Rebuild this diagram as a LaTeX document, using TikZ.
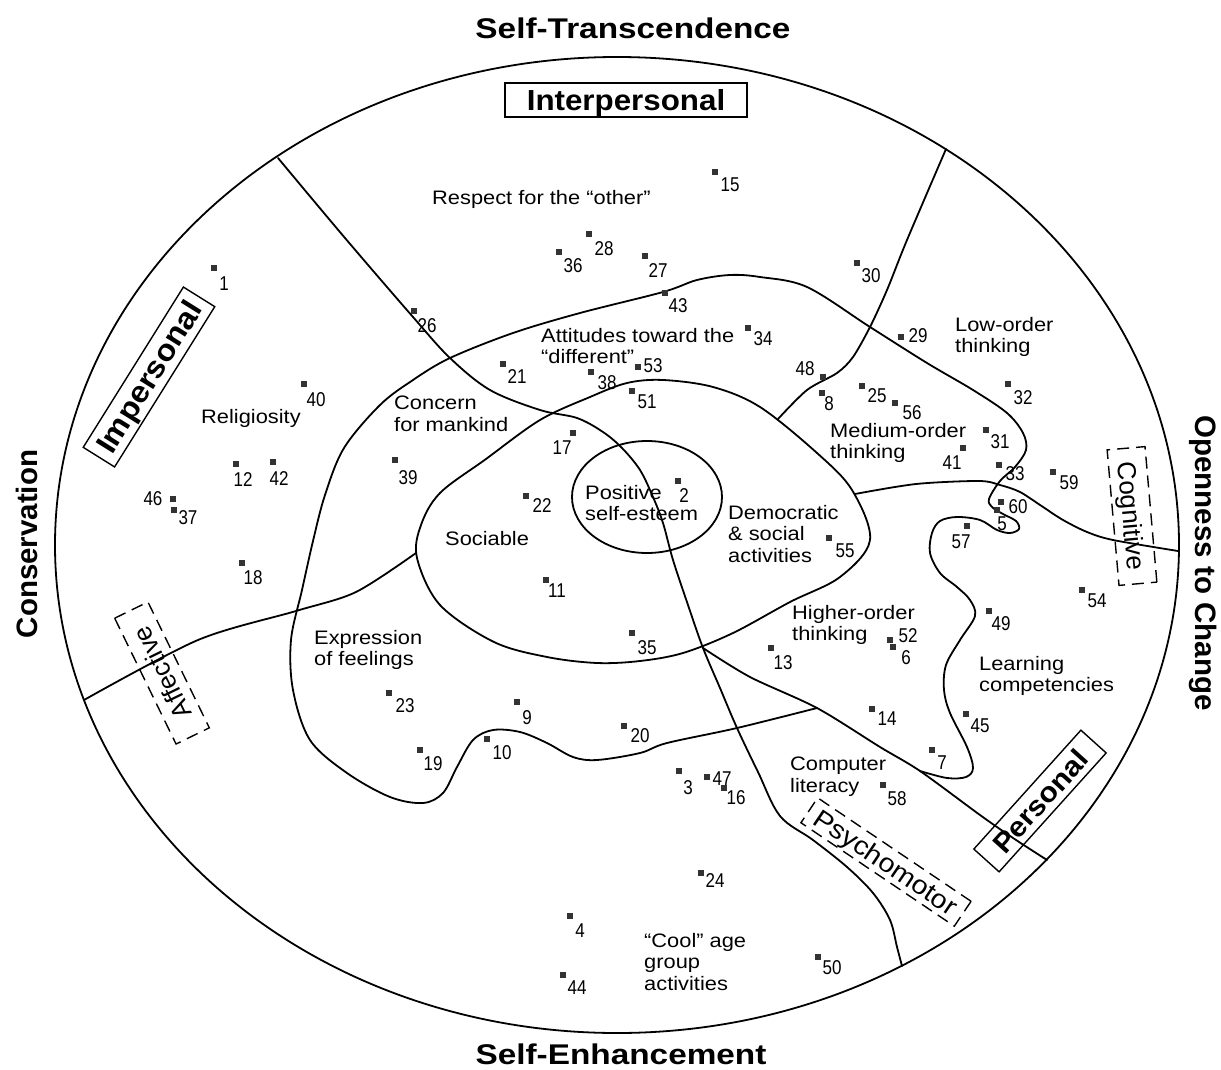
\documentclass[tikz,border=0pt]{standalone}
\usepackage{fontspec}
\setmainfont{Liberation Sans}
\newfontfamily\lblf{Liberation Sans}[FakeStretch=1.12]
\newfontfamily\numf{Liberation Sans}[FakeStretch=0.85]
\newfontfamily\ttlf{Liberation Sans}[FakeStretch=1.17]
\newfontfamily\boxf{Liberation Sans}[FakeStretch=1.08]
\newfontfamily\plainf{Liberation Sans}
\newfontfamily\psyf{Liberation Sans}[FakeStretch=1.1]
\tikzset{
 bnd/.style={line width=1.8pt, line join=round, line cap=round},
 mk/.style={rectangle, fill=black!80, minimum size=5.5pt, inner sep=0pt},
 num/.style={font={\numf\fontsize{20}{20}\selectfont}, inner sep=0pt, text height=14.4pt, text depth=0pt},
 lbl/.style={font={\lblf\fontsize{19.5}{21.5}\selectfont}, inner sep=0pt, anchor=north west, align=left},
 ttl/.style={font={\ttlf\bfseries\fontsize{28.5}{30}\selectfont}, inner sep=0pt, text height=20.5pt, text depth=0pt},
 vttl/.style={font={\plainf\bfseries\fontsize{29.5}{30}\selectfont}, inner sep=0pt, text height=21.2pt, text depth=0pt},
 sbox/.style={draw, line width=1.4pt, inner sep=0pt, text height=20.9pt, text depth=0pt, font={\boxf\bfseries\fontsize{29}{30}\selectfont}},
 dbox/.style={draw, line width=1.4pt, dash pattern=on 12pt off 7pt, inner sep=0pt, text height=18.7pt, text depth=0pt, font={\plainf\fontsize{26}{28}\selectfont}},
}
\newcommand\itm[5]{\node[mk] (m#5) at (#1,#2) {}; \node[num] (n#5) at (#3,#4) {#5};}
\begin{document}
\begin{tikzpicture}[x=1pt,y=-1pt]
\useasboundingbox (0,0) rectangle (1221,1070);
\fill[white] (0,0) rectangle (1221,1070);

% outer ellipse
\draw[bnd] (617,545) ellipse [x radius=562, y radius=488];

% long dividing curve
\draw[bnd] plot[smooth, tension=0.55] coordinates {(278,158) (345,238) (413,317) (450,358) (490,390) (540,410) (577,418) (603,432) (622,448) (640,470) (653,497) (663,523) (673,560) (688,605) (703,648) (720,688) (737,728) (758,772) (780,816) (813,840) (847,867) (873,893) (890,920) (897,947) (902,966)};

% big blob
\draw[bnd] plot[smooth, tension=0.55] coordinates {(920,771) (947,778) (966,777) (973,768) (967,747) (950,713) (944,690) (946,665) (960,640) (975,616) (970,600) (957,587) (940,573) (930,553) (932,533) (940,521) (957,517) (980,520) (997,530) (1010,533) (1019,529) (1016,521) (1003,514) (992,507) (989,499) (1000,481) (1015,467) (1026,450) (1023,433) (1007,413) (973,390) (927,363) (870,327) (807,287) (760,277) (730,275) (697,280) (663,292) (580,313) (513,333) (450,358) (413,380) (380,405) (344,448) (325,495) (313,541) (302,590) (291,640) (293,690) (310,740) (347,773) (390,797) (423,803) (443,793) (457,767) (473,740) (493,730) (520,732) (547,743) (573,757) (597,760) (640,753) (667,743) (737,728) (817,708)};

% middle ring
\draw[bnd] plot[smooth cycle, tension=0.55] coordinates {(540,420) (590,397) (627,383) (663,380) (713,387) (760,407) (817,453) (852,490) (870,540) (840,577) (790,602) (733,633) (683,653) (640,661) (597,663) (547,657) (494,642) (440,605) (417,558) (421,525) (440,493) (486,459)};

% positive self-esteem
\draw[bnd] (647,497) ellipse [x radius=75, y radius=56];

% affective line
\draw[bnd] plot[smooth, tension=0.5] coordinates {(84,700) (198,640) (296,611) (356,592) (416,553)};

% cognitive line
\draw[bnd] plot[smooth, tension=0.5] coordinates {(855,494) (916,484) (979,481) (1000,485) (1020,492) (1043,507) (1063,520) (1087,532) (1113,540) (1178,551)};

% medium / low line
\draw[bnd] plot[smooth, tension=0.5] coordinates {(778,419) (807,390) (837,373) (853,357) (870,327) (887,290) (907,240) (946,149)};

% diagonal psychomotor / personal
\draw[bnd] plot[smooth, tension=0.5] coordinates {(703,648) (750,677) (817,708) (880,747) (920,771) (980,815) (1013,838) (1047,860)};

% titles
\node[ttl] (st) at (633,28) {Self-Transcendence};
\node[ttl] (se) at (621,1054) {Self-Enhancement};
\node[vttl, rotate=90] (cons) at (27,544) {Conservation};
\node[vttl, rotate=-90] (open) at (1206,563) {Openness to Change};

% boxes
\node[sbox, minimum width=242pt, minimum height=34pt] (interp) at (626,100) {Interpersonal};
\node[sbox, rotate=58, minimum width=189pt, minimum height=37pt, font={\boxf\bfseries\fontsize{30}{30}\selectfont}] (imp) at (149,377) {Impersonal};
\node[sbox, rotate=48, minimum width=160pt, minimum height=34pt, font={\boxf\bfseries\fontsize{28}{30}\selectfont}] (pers) at (1040,801) {Personal};
\node[dbox, rotate=-85, minimum width=136pt, minimum height=38pt] (cog) at (1132,516) {Cognitive};
\node[dbox, rotate=116, minimum width=140pt, minimum height=37pt] (aff) at (162,673) {Affective};
\node[dbox, rotate=-34, minimum width=185pt, minimum height=30pt, font={\psyf\fontsize{26}{28}\selectfont}] (psy) at (886,862) {Psychomotor};

% region labels
\node[lbl] (t1) at (432,190) {Respect for the “other”};
\node[lbl] (t2) at (201,409) {Religiosity};
\node[lbl] (t3) at (394,396) {Concern\\for mankind};
\node[lbl] (t4) at (541,328) {Attitudes toward the\\“different”};
\node[lbl] (t5) at (955,317) {Low-order\\thinking};
\node[lbl] (t6) at (830,423) {Medium-order\\thinking};
\node[lbl] (t7) at (585,485) {Positive\\self-esteem};
\node[lbl] (t8) at (445,531) {Sociable};
\node[lbl] (t9) at (728,505) {Democratic\\\& social\\activities};
\node[lbl] (t10) at (792,605) {Higher-order\\thinking};
\node[lbl] (t11) at (979,656) {Learning\\competencies};
\node[lbl] (t12) at (314,630) {Expression\\of feelings};
\node[lbl] (t13) at (790,757) {Computer\\literacy};
\node[lbl] (t14) at (644,933) {“Cool” age\\group\\activities};

% items
\itm{214}{268}{224}{283}{1}
\itm{678}{481}{684}{495}{2}
\itm{679}{771}{688}{787}{3}
\itm{570}{916}{580}{930}{4}
\itm{997}{510}{1002}{523}{5}
\itm{893}{647}{906}{657}{6}
\itm{932}{750}{942}{762}{7}
\itm{822}{393}{829}{403}{8}
\itm{517}{702}{527}{717}{9}
\itm{487}{739}{502}{752}{10}
\itm{546}{580}{557}{590}{11}
\itm{236}{464}{243}{479}{12}
\itm{771}{648}{783}{662}{13}
\itm{872}{709}{887}{718}{14}
\itm{715}{172}{730}{184}{15}
\itm{724}{788}{736}{797}{16}
\itm{573}{433}{562}{447}{17}
\itm{242}{563}{253}{577}{18}
\itm{420}{750}{433}{763}{19}
\itm{624}{726}{640}{735}{20}
\itm{503}{364}{517}{376}{21}
\itm{526}{496}{542}{505}{22}
\itm{389}{693}{405}{705}{23}
\itm{701}{873}{715}{880}{24}
\itm{862}{386}{877}{395}{25}
\itm{414}{311}{427}{325}{26}
\itm{645}{256}{658}{270}{27}
\itm{589}{234}{604}{248}{28}
\itm{901}{337}{918}{335}{29}
\itm{857}{263}{871}{275}{30}
\itm{986}{430}{1000}{441}{31}
\itm{1008}{384}{1023}{397}{32}
\itm{999}{465}{1015}{473}{33}
\itm{748}{328}{763}{338}{34}
\itm{632}{633}{647}{647}{35}
\itm{559}{252}{573}{265}{36}
\itm{174}{510}{188}{517}{37}
\itm{591}{372}{607}{382}{38}
\itm{395}{460}{408}{477}{39}
\itm{304}{384}{316}{399}{40}
\itm{963}{448}{952}{462}{41}
\itm{273}{462}{279}{478}{42}
\itm{665}{293}{678}{305}{43}
\itm{563}{975}{577}{987}{44}
\itm{966}{714}{980}{725}{45}
\itm{173}{499}{153}{498}{46}
\itm{707}{777}{722}{778}{47}
\itm{823}{377}{805}{368}{48}
\itm{989}{611}{1001}{623}{49}
\itm{818}{957}{832}{967}{50}
\itm{632}{391}{647}{401}{51}
\itm{890}{640}{908}{635}{52}
\itm{638}{367}{653}{365}{53}
\itm{1082}{590}{1097}{600}{54}
\itm{829}{538}{845}{550}{55}
\itm{895}{403}{912}{412}{56}
\itm{967}{526}{961}{541}{57}
\itm{883}{785}{897}{798}{58}
\itm{1053}{472}{1069}{482}{59}
\itm{1001}{502}{1018}{506}{60}
\end{tikzpicture}
\end{document}
